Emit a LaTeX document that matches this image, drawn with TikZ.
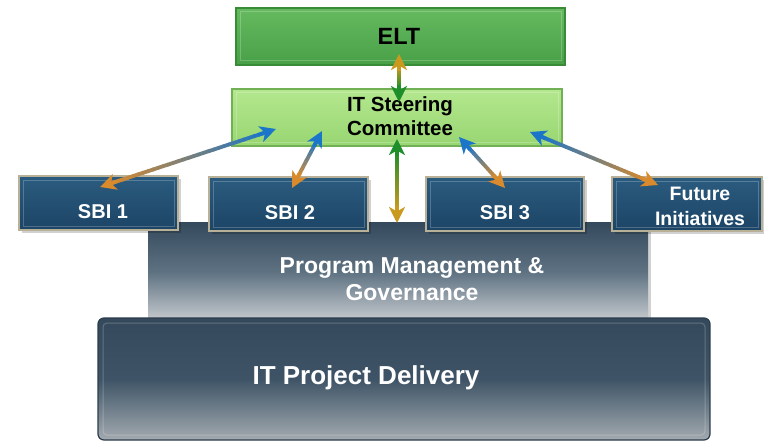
\documentclass[tikz,border=0pt]{standalone}
\usepackage{fontspec}
\setmainfont{Liberation Sans}
\usetikzlibrary{calc,arrows.meta}
\definecolor{eltTop}{HTML}{66BA60}
\definecolor{eltBot}{HTML}{48A046}
\definecolor{eltLine}{HTML}{3A8B38}
\definecolor{stTop}{HTML}{B4E78E}
\definecolor{stBot}{HTML}{98D672}
\definecolor{stLine}{HTML}{72B055}
\definecolor{sbiTop}{HTML}{2B5C80}
\definecolor{sbiBot}{HTML}{1C4465}
\definecolor{sbiLine}{HTML}{B8B197}
\definecolor{pmTop}{HTML}{34495C}
\definecolor{pmMid}{HTML}{5E7282}
\definecolor{pmBot}{HTML}{C9CDD1}
\definecolor{ipTop}{HTML}{34495B}
\definecolor{ipMid}{HTML}{3E5466}
\definecolor{ipBot}{HTML}{A3AAB0}
\definecolor{ipLine}{HTML}{2B3C4A}
\definecolor{arBlue}{HTML}{1B75C9}
\definecolor{arOrange}{HTML}{D88A2C}
\definecolor{arGreen}{HTML}{1E8E2A}
\definecolor{arGold}{HTML}{C99A1E}
\tikzset{
  x=1pt, y=-1pt,
  boxbase/.style={rectangle, inner sep=0pt, outer sep=0pt},
  eltbox/.style={boxbase, top color=eltTop, bottom color=eltBot, draw=eltLine, line width=1.2pt},
  stbox/.style={boxbase, top color=stTop, bottom color=stBot, draw=stLine, line width=1.2pt},
  sbibox/.style={boxbase, top color=sbiTop, bottom color=sbiBot, draw=sbiLine, line width=1.3pt},
  pmbox/.style={boxbase, top color=pmTop, bottom color=pmBot, middle color=pmMid},
  ipbox/.style={boxbase, rounded corners=6pt, top color=ipTop, bottom color=ipBot, middle color=ipMid, draw=ipLine, line width=1.2pt},
  shadowbox/.style={boxbase, fill=black, opacity=0.18},
  bevel/.style={draw=white, opacity=0.22, line width=1pt},
  whitetxt/.style={text=white, font=\bfseries, align=center, inner sep=0pt},
  blacktxt/.style={text=black, font=\bfseries, align=center, inner sep=0pt},
  tipstyle/.style={line width=3.8pt, -{Stealth[length=16pt,width=16pt,inset=4.5pt]}},
}
\newcommand\gradarrow[4]{%
  \path coordinate (ga) at ($(#1)!13pt!(#2)$) coordinate (gb) at ($(#2)!13pt!(#1)$);
  \foreach \i in {0,...,29}{%
    \pgfmathsetmacro\ta{\i/30}%
    \pgfmathsetmacro\tb{min(1,(\i+1.15)/30)}%
    \pgfmathtruncatemacro\p{100-(100*\i+50)/30}%
    \draw[line width=3.8pt, color=#3!\p!#4] ($(ga)!\ta!(gb)$) -- ($(ga)!\tb!(gb)$);
  }%
  \draw[tipstyle, color=#3] ($(#1)!17pt!(#2)$) -- (#1);
  \draw[tipstyle, color=#4] ($(#2)!17pt!(#1)$) -- (#2);
}
\begin{document}
\begin{tikzpicture}
\useasboundingbox (0,0) rectangle (764,444);
\fill[white] (0,0) rectangle (764,444);

% Program Management & Governance
\node[shadowbox, minimum width=500pt, minimum height=100pt] at (401,275) {};
\node[pmbox, minimum width=500pt, minimum height=100pt] (pm) at (398,272) {};
\node[whitetxt, font=\bfseries\fontsize{23}{27}\selectfont] (pmt) at (412,279) {Program Management \&\\Governance};

% IT Project Delivery
\node[ipbox, minimum width=612pt, minimum height=122pt] (ip) at (404,379) {};
\draw[bevel, rounded corners=4pt] (103,323) rectangle (705,435);
\node[whitetxt, font=\bfseries\fontsize{26}{30}\selectfont] (ipt) at (366,378) {IT Project Delivery};

% ELT and Steering committee
\node[eltbox, minimum width=329pt, minimum height=57pt] (elt) at (400.5,36.5) {};
\draw[bevel] (240,12) rectangle (561,61);
\node[blacktxt, font=\bfseries\fontsize{23.5}{27}\selectfont] (eltt) at (399,36) {ELT};
\node[stbox, minimum width=330pt, minimum height=57pt] (st) at (397,117.5) {};
\draw[bevel] (236,93) rectangle (558,142);
\node[blacktxt, font=\bfseries\fontsize{20.5}{24}\selectfont] (stt) at (400,116) {IT Steering\\Committee};

% SBI boxes
\node[shadowbox, minimum width=159pt, minimum height=54pt] at (101,206) {};
\node[sbibox, minimum width=159pt, minimum height=54pt] (sbi1) at (98.5,203) {};
\draw[bevel] (23,180) rectangle (174,226);
\node[whitetxt, font=\bfseries\fontsize{20}{24}\selectfont] (sbi1t) at (103,212) {SBI 1};
\node[shadowbox, minimum width=159pt, minimum height=54pt] at (291,207) {};
\node[sbibox, minimum width=159pt, minimum height=54pt] (sbi2) at (288.5,204) {};
\draw[bevel] (213,181) rectangle (364,227);
\node[whitetxt, font=\bfseries\fontsize{20}{24}\selectfont] (sbi2t) at (290,213) {SBI 2};
\node[shadowbox, minimum width=158pt, minimum height=54pt] at (507.5,207) {};
\node[sbibox, minimum width=158pt, minimum height=54pt] (sbi3) at (505,204) {};
\draw[bevel] (430,181) rectangle (580,227);
\node[whitetxt, font=\bfseries\fontsize{20}{24}\selectfont] (sbi3t) at (505,213) {SBI 3};
\node[shadowbox, minimum width=150pt, minimum height=54pt] at (690,207) {};
\node[sbibox, minimum width=150pt, minimum height=54pt] (fi) at (687,204) {};
\draw[bevel] (616,181) rectangle (758,227);
\node[whitetxt, font=\bfseries\fontsize{19.5}{25}\selectfont] (fit) at (700,206) {Future\\Initiatives};

% arrow end points
\coordinate (eltA) at (399,54);
\coordinate (stA) at (399,102);
\coordinate (stB) at (397,139);
\coordinate (pmA) at (397,223);
\coordinate (s1o) at (100,187);
\coordinate (s1b) at (276,129);
\coordinate (s2o) at (292,188);
\coordinate (s2b) at (322,131);
\coordinate (s3o) at (505,188);
\coordinate (s3b) at (459,137);
\coordinate (fio) at (658,185);
\coordinate (fib) at (530,132);

\gradarrow{eltA}{stA}{arGold}{arGreen}
\gradarrow{stB}{pmA}{arGreen}{arGold}
\gradarrow{s1o}{s1b}{arOrange}{arBlue}
\gradarrow{s2o}{s2b}{arOrange}{arBlue}
\gradarrow{s3o}{s3b}{arOrange}{arBlue}
\gradarrow{fio}{fib}{arOrange}{arBlue}
\end{tikzpicture}
\end{document}
